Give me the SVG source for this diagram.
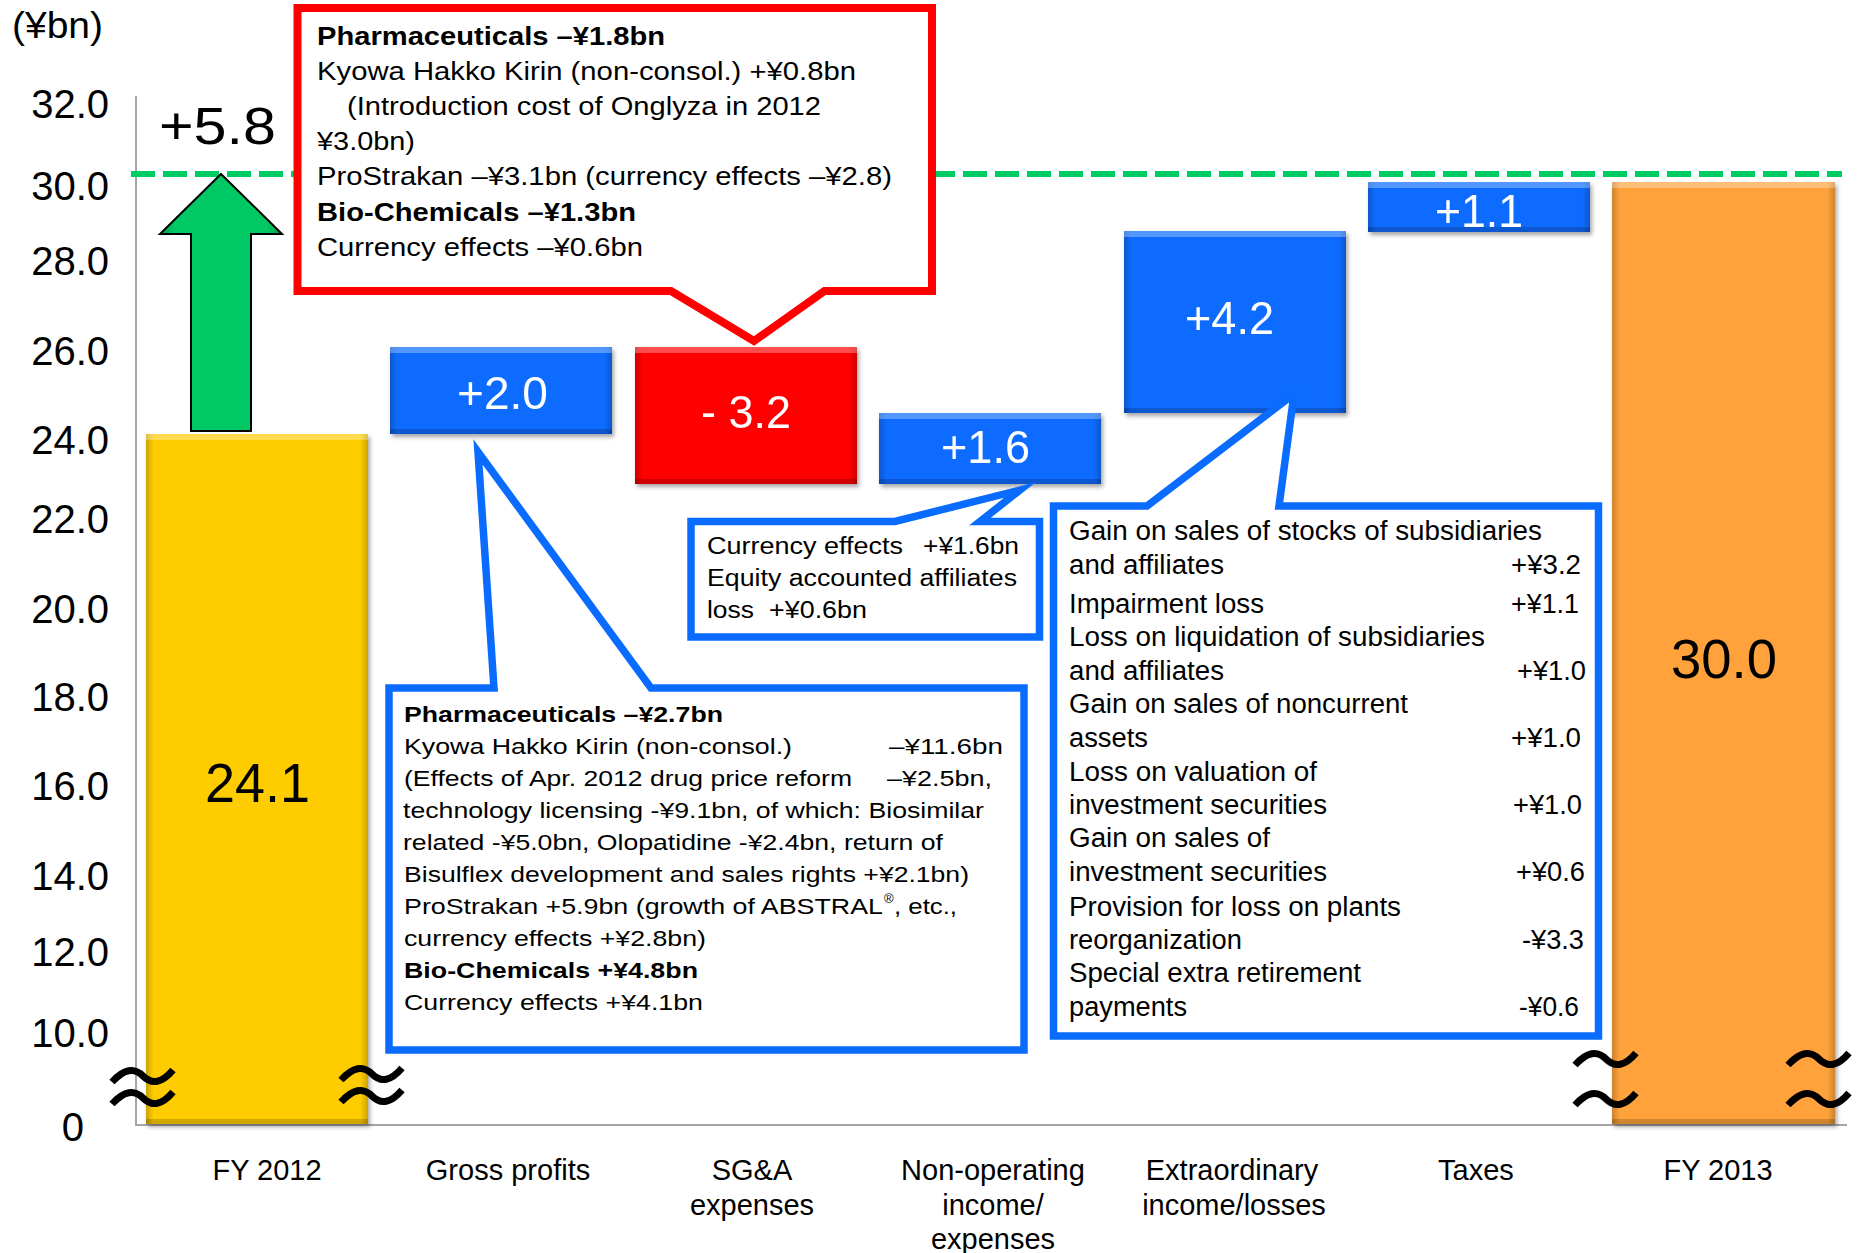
<svg xmlns="http://www.w3.org/2000/svg" width="1857" height="1253" viewBox="0 0 1857 1253">
<style>
.t{font-family:"Liberation Sans",Arial,sans-serif;fill:#000}
.ax{font-size:40px;text-anchor:end}
.cat{font-size:29px;text-anchor:middle}
.bl{font-size:46px;fill:#fff;text-anchor:middle}
.big{font-size:56px;text-anchor:middle}
.rc{font-size:26px}
.bc{font-size:22px}
.pc{font-size:23.5px}
.xc{font-size:27px}
.b{font-weight:bold}
.callB{fill:#fff;stroke:#0A6CFF;stroke-width:7.5;stroke-linejoin:miter;stroke-miterlimit:8}
.callR{fill:#fff;stroke:#FF0000;stroke-width:8;stroke-linejoin:miter}
.sq{fill:none;stroke:#000;stroke-width:7}
.top{fill:#fff;opacity:.3}
.bot{fill:#000;opacity:.18}
</style>
<defs>
<linearGradient id="edgeH" x1="0" x2="1" y1="0" y2="0">
<stop offset="0" stop-color="#000" stop-opacity=".2"/>
<stop offset=".035" stop-color="#000" stop-opacity="0"/>
<stop offset=".965" stop-color="#000" stop-opacity="0"/>
<stop offset="1" stop-color="#000" stop-opacity=".2"/>
</linearGradient>
<linearGradient id="arrowG" x1="0" x2="1" y1="0" y2="0">
<stop offset="0" stop-color="#009A4A"/>
<stop offset=".12" stop-color="#00C864"/>
<stop offset=".88" stop-color="#00C864"/>
<stop offset="1" stop-color="#009A4A"/>
</linearGradient>
<filter id="sh" x="-10%" y="-10%" width="120%" height="130%">
<feDropShadow dx="2" dy="3" stdDeviation="2" flood-color="#000" flood-opacity=".35"/>
</filter>
<path id="wave" d="M0,15 C12,2 22,0 31,9 C40,18 50,16 61,3"/>
</defs>
<rect width="1857" height="1253" fill="#fff"/>

<g id="axes">
<line x1="136" y1="96" x2="136" y2="1125" stroke="#A6A6A6" stroke-width="2"/>
<line x1="135" y1="1125" x2="1847" y2="1125" stroke="#A6A6A6" stroke-width="2"/>
<line x1="131" y1="174" x2="1842" y2="174" stroke="#00CC66" stroke-width="6" stroke-dasharray="24 8"/>
<text class="t" x="12" y="38" font-size="36" textLength="91" lengthAdjust="spacingAndGlyphs">(&#165;bn)</text>
<text class="t ax" x="109" y="118">32.0</text>
<text class="t ax" x="109" y="200">30.0</text>
<text class="t ax" x="109" y="275">28.0</text>
<text class="t ax" x="109" y="365">26.0</text>
<text class="t ax" x="109" y="454">24.0</text>
<text class="t ax" x="109" y="533">22.0</text>
<text class="t ax" x="109" y="623">20.0</text>
<text class="t ax" x="109" y="711">18.0</text>
<text class="t ax" x="109" y="800">16.0</text>
<text class="t ax" x="109" y="890">14.0</text>
<text class="t ax" x="109" y="966">12.0</text>
<text class="t ax" x="109" y="1047">10.0</text>
<text class="t ax" x="84" y="1141">0</text>
</g>

<g id="bar-fy2012" filter="url(#sh)">
<rect x="146" y="434" width="222" height="690" fill="#FFCC00"/>
<rect x="146" y="434" width="222" height="690" fill="url(#edgeH)"/>
<rect class="top" x="146" y="434" width="222" height="6"/>
<rect class="bot" x="146" y="1119" width="222" height="5"/>
<text class="t big" x="257.5" y="802" textLength="105" lengthAdjust="spacingAndGlyphs">24.1</text>
</g>
<g id="bar-gross" filter="url(#sh)">
<rect x="390" y="347" width="222" height="87" fill="#0A6CFF"/>
<rect x="390" y="347" width="222" height="87" fill="url(#edgeH)"/>
<rect class="top" x="390" y="347" width="222" height="6"/>
<rect class="bot" x="390" y="429" width="222" height="5"/>
<text class="t bl" x="502.5" y="409" textLength="91" lengthAdjust="spacingAndGlyphs">+2.0</text>
</g>
<g id="bar-sga" filter="url(#sh)">
<rect x="635" y="347" width="222" height="137" fill="#FF0000"/>
<rect x="635" y="347" width="222" height="137" fill="url(#edgeH)"/>
<rect class="top" x="635" y="347" width="222" height="6"/>
<rect class="bot" x="635" y="479" width="222" height="5"/>
<text class="t bl" x="746" y="428" textLength="90" lengthAdjust="spacingAndGlyphs">- 3.2</text>
</g>
<g id="bar-nonop" filter="url(#sh)">
<rect x="879" y="413" width="222" height="71" fill="#0A6CFF"/>
<rect x="879" y="413" width="222" height="71" fill="url(#edgeH)"/>
<rect class="top" x="879" y="413" width="222" height="6"/>
<rect class="bot" x="879" y="479" width="222" height="5"/>
<text class="t bl" x="985.5" y="463" textLength="89" lengthAdjust="spacingAndGlyphs">+1.6</text>
</g>
<g id="bar-extra" filter="url(#sh)">
<rect x="1124" y="231" width="222" height="182" fill="#0A6CFF"/>
<rect x="1124" y="231" width="222" height="182" fill="url(#edgeH)"/>
<rect class="top" x="1124" y="231" width="222" height="6"/>
<rect class="bot" x="1124" y="408" width="222" height="5"/>
<text class="t bl" x="1229.5" y="334" textLength="89" lengthAdjust="spacingAndGlyphs">+4.2</text>
</g>
<g id="bar-taxes" filter="url(#sh)">
<rect x="1368" y="182" width="222" height="50" fill="#0A6CFF"/>
<rect x="1368" y="182" width="222" height="50" fill="url(#edgeH)"/>
<rect class="top" x="1368" y="182" width="222" height="6"/>
<rect class="bot" x="1368" y="227" width="222" height="5"/>
<text class="t bl" x="1479" y="227" textLength="88" lengthAdjust="spacingAndGlyphs">+1.1</text>
</g>
<g id="bar-fy2013" filter="url(#sh)">
<rect x="1612" y="182" width="223" height="942" fill="#FFA23A"/>
<rect x="1612" y="182" width="223" height="942" fill="url(#edgeH)"/>
<rect class="top" x="1612" y="182" width="223" height="6"/>
<rect class="bot" x="1612" y="1119" width="223" height="5"/>
<text class="t big" x="1724" y="678" textLength="106" lengthAdjust="spacingAndGlyphs">30.0</text>
</g>

<g id="breaks">
<use href="#wave" class="sq" x="112" y="1067"/>
<use href="#wave" class="sq" x="112" y="1089"/>
<use href="#wave" class="sq" x="341" y="1065"/>
<use href="#wave" class="sq" x="341" y="1087"/>
<use href="#wave" class="sq" x="1575" y="1050"/>
<use href="#wave" class="sq" x="1575" y="1090"/>
<use href="#wave" class="sq" x="1788" y="1050"/>
<use href="#wave" class="sq" x="1788" y="1090"/>
</g>

<g id="arrow-up">
<polygon points="221,174 282,234 251,234 251,431 191,431 191,234 160,234" fill="url(#arrowG)" stroke="#000" stroke-width="2" stroke-linejoin="miter"/>
<text class="t" x="159" y="144" font-size="52" textLength="117" lengthAdjust="spacingAndGlyphs">+5.8</text>
</g>

<g id="callout-sga">
<path class="callR" d="M297.5,8 H932 V291 H824.5 L754,341 L671,291 H297.5 Z"/>
<text class="t rc b" x="317" y="45" textLength="348" lengthAdjust="spacingAndGlyphs">Pharmaceuticals –&#165;1.8bn</text>
<text class="t rc" x="317" y="80" textLength="539" lengthAdjust="spacingAndGlyphs">Kyowa Hakko Kirin (non-consol.) +&#165;0.8bn</text>
<text class="t rc" x="347" y="115" textLength="474" lengthAdjust="spacingAndGlyphs">(Introduction cost of Onglyza in 2012</text>
<text class="t rc" x="317" y="150" textLength="98" lengthAdjust="spacingAndGlyphs">&#165;3.0bn)</text>
<text class="t rc" x="317" y="185" textLength="575" lengthAdjust="spacingAndGlyphs">ProStrakan –&#165;3.1bn (currency effects –&#165;2.8)</text>
<text class="t rc b" x="317" y="221" textLength="319" lengthAdjust="spacingAndGlyphs">Bio-Chemicals –&#165;1.3bn</text>
<text class="t rc" x="317" y="256" textLength="326" lengthAdjust="spacingAndGlyphs">Currency effects –&#165;0.6bn</text>
</g>

<g id="callout-gross">
<path class="callB" d="M389,688 H494 L478,452 L651,688 H1024 V1050 H389 Z"/>
<text class="t bc b" x="404" y="722" textLength="319" lengthAdjust="spacingAndGlyphs">Pharmaceuticals –&#165;2.7bn</text>
<text class="t bc" x="404" y="754" textLength="388" lengthAdjust="spacingAndGlyphs">Kyowa Hakko Kirin (non-consol.)</text>
<text class="t bc" x="889" y="754" textLength="114" lengthAdjust="spacingAndGlyphs">–&#165;11.6bn</text>
<text class="t bc" x="404" y="786" textLength="448" lengthAdjust="spacingAndGlyphs">(Effects of Apr. 2012 drug price reform</text>
<text class="t bc" x="887" y="786" textLength="105" lengthAdjust="spacingAndGlyphs">–&#165;2.5bn,</text>
<text class="t bc" x="403" y="818" textLength="581" lengthAdjust="spacingAndGlyphs">technology licensing -&#165;9.1bn, of which: Biosimilar</text>
<text class="t bc" x="403" y="850" textLength="540" lengthAdjust="spacingAndGlyphs">related -&#165;5.0bn, Olopatidine -&#165;2.4bn, return of</text>
<text class="t bc" x="404" y="882" textLength="565" lengthAdjust="spacingAndGlyphs">Bisulflex development and sales rights +&#165;2.1bn)</text>
<text class="t bc" x="404" y="914" textLength="479" lengthAdjust="spacingAndGlyphs">ProStrakan +5.9bn (growth of ABSTRAL</text>
<text class="t" x="884" y="903" font-size="13">®</text>
<text class="t bc" x="894" y="914" textLength="63" lengthAdjust="spacingAndGlyphs">, etc.,</text>
<text class="t bc" x="404" y="946" textLength="302" lengthAdjust="spacingAndGlyphs">currency effects +&#165;2.8bn)</text>
<text class="t bc b" x="404" y="978" textLength="294" lengthAdjust="spacingAndGlyphs">Bio-Chemicals +&#165;4.8bn</text>
<text class="t bc" x="404" y="1010" textLength="299" lengthAdjust="spacingAndGlyphs">Currency effects +&#165;4.1bn</text>
</g>

<g id="callout-nonop">
<path class="callB" d="M691,521.5 H895 L1020,490 L980,521.5 H1039.5 V637 H691 Z"/>
<text class="t pc" x="707" y="554" textLength="196" lengthAdjust="spacingAndGlyphs">Currency effects</text>
<text class="t pc" x="923" y="554" textLength="96" lengthAdjust="spacingAndGlyphs">+&#165;1.6bn</text>
<text class="t pc" x="707" y="586" textLength="310" lengthAdjust="spacingAndGlyphs">Equity accounted affiliates</text>
<text class="t pc" x="707" y="618" textLength="47" lengthAdjust="spacingAndGlyphs">loss</text>
<text class="t pc" x="769" y="618" textLength="98" lengthAdjust="spacingAndGlyphs">+&#165;0.6bn</text>
</g>

<g id="callout-extra">
<path class="callB" d="M1053.5,506 H1147 L1294,394 L1279,506 H1598.5 V1036 H1053.5 Z"/>
<text class="t xc" x="1069" y="540" textLength="473" lengthAdjust="spacingAndGlyphs">Gain on sales of stocks of subsidiaries</text>
<text class="t xc" x="1069" y="574" textLength="155" lengthAdjust="spacingAndGlyphs">and affiliates</text>
<text class="t xc" x="1511" y="574" textLength="70" lengthAdjust="spacingAndGlyphs">+&#165;3.2</text>
<text class="t xc" x="1069" y="613" textLength="195" lengthAdjust="spacingAndGlyphs">Impairment loss</text>
<text class="t xc" x="1511" y="613" textLength="68" lengthAdjust="spacingAndGlyphs">+&#165;1.1</text>
<text class="t xc" x="1069" y="646" textLength="416" lengthAdjust="spacingAndGlyphs">Loss on liquidation of subsidiaries</text>
<text class="t xc" x="1069" y="680" textLength="155" lengthAdjust="spacingAndGlyphs">and affiliates</text>
<text class="t xc" x="1517" y="680" textLength="69" lengthAdjust="spacingAndGlyphs">+&#165;1.0</text>
<text class="t xc" x="1069" y="713" textLength="339" lengthAdjust="spacingAndGlyphs">Gain on sales of noncurrent</text>
<text class="t xc" x="1069" y="747" textLength="79" lengthAdjust="spacingAndGlyphs">assets</text>
<text class="t xc" x="1511" y="747" textLength="70" lengthAdjust="spacingAndGlyphs">+&#165;1.0</text>
<text class="t xc" x="1069" y="781" textLength="248" lengthAdjust="spacingAndGlyphs">Loss on valuation of</text>
<text class="t xc" x="1069" y="814" textLength="258" lengthAdjust="spacingAndGlyphs">investment securities</text>
<text class="t xc" x="1513" y="814" textLength="69" lengthAdjust="spacingAndGlyphs">+&#165;1.0</text>
<text class="t xc" x="1069" y="847" textLength="201" lengthAdjust="spacingAndGlyphs">Gain on sales of</text>
<text class="t xc" x="1069" y="881" textLength="258" lengthAdjust="spacingAndGlyphs">investment securities</text>
<text class="t xc" x="1516" y="881" textLength="69" lengthAdjust="spacingAndGlyphs">+&#165;0.6</text>
<text class="t xc" x="1069" y="916" textLength="332" lengthAdjust="spacingAndGlyphs">Provision for loss on plants</text>
<text class="t xc" x="1069" y="949" textLength="173" lengthAdjust="spacingAndGlyphs">reorganization</text>
<text class="t xc" x="1522" y="949" textLength="62" lengthAdjust="spacingAndGlyphs">-&#165;3.3</text>
<text class="t xc" x="1069" y="982" textLength="292" lengthAdjust="spacingAndGlyphs">Special extra retirement</text>
<text class="t xc" x="1069" y="1016" textLength="118" lengthAdjust="spacingAndGlyphs">payments</text>
<text class="t xc" x="1519" y="1016" textLength="60" lengthAdjust="spacingAndGlyphs">-&#165;0.6</text>
</g>

<g id="categories">
<text class="t cat" x="267" y="1180">FY 2012</text>
<text class="t cat" x="508" y="1180">Gross profits</text>
<text class="t cat" x="752" y="1180">SG&amp;A</text>
<text class="t cat" x="752" y="1215">expenses</text>
<text class="t cat" x="993" y="1180">Non-operating</text>
<text class="t cat" x="993" y="1215">income/</text>
<text class="t cat" x="993" y="1249">expenses</text>
<text class="t cat" x="1232" y="1180">Extraordinary</text>
<text class="t cat" x="1234" y="1215">income/losses</text>
<text class="t cat" x="1476" y="1180">Taxes</text>
<text class="t cat" x="1718" y="1180">FY 2013</text>
</g>

<g id="connectors"></g>
</svg>
